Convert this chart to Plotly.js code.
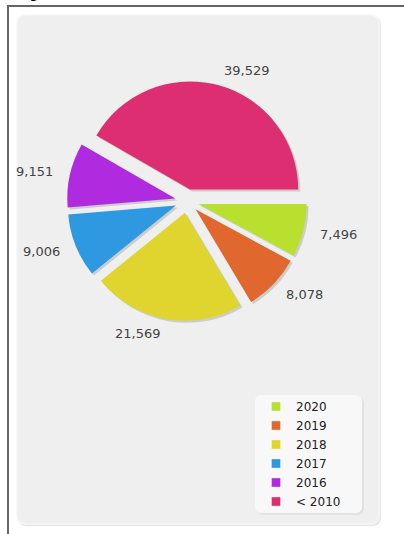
<!DOCTYPE html>
<html>
<head>
<meta charset="utf-8">
<script src="https://cdn.plot.ly/plotly-3.0.1.min.js"></script>
<style>
html,body{margin:0;padding:0;background:#fff;}
#chart{width:404px;height:534px;}
.legend .legendpoints path{transform:translate(20px,0px) scale(0.72);}
</style>
</head>
<body>
<div id="chart"></div>
<script>
// ---- data ----
var categories = ["2020", "2019", "2018", "2017", "2016", "< 2010"];
var values = [7496, 8078, 21569, 9006, 9151, 39529];
var valueLabels = ["7,496", "8,078", "21,569", "9,006", "9,151", "39,529"];
var colors = ["#b9e02e", "#e0672e", "#e0d52e", "#2e98e0", "#b02be0", "#de2e72"];

// ---- layout helpers (pixel -> paper) ----
var W = 404, H = 534;
function px(x) { return x / W; }
function py(y) { return 1 - y / H; }
var cx = 187, cy = 201, half = 120, pullFrac = 0.11;

function roundRect(x0, y0, x1, y1, r) {
  return "M" + px(x0 + r) + "," + py(y0) +
    " L" + px(x1 - r) + "," + py(y0) +
    " Q" + px(x1) + "," + py(y0) + " " + px(x1) + "," + py(y0 + r) +
    " L" + px(x1) + "," + py(y1 - r) +
    " Q" + px(x1) + "," + py(y1) + " " + px(x1 - r) + "," + py(y1) +
    " L" + px(x0 + r) + "," + py(y1) +
    " Q" + px(x0) + "," + py(y1) + " " + px(x0) + "," + py(y1 - r) +
    " L" + px(x0) + "," + py(y0 + r) +
    " Q" + px(x0) + "," + py(y0) + " " + px(x0 + r) + "," + py(y0) + " Z";
}

var pulls = values.map(function () { return pullFrac; });

var shadow = {
  type: "pie", values: values, labels: categories, sort: false,
  direction: "clockwise", rotation: 90, pull: pulls,
  marker: { colors: values.map(function () { return "#c4c4c4"; }), line: { width: 0 } },
  textinfo: "none", hoverinfo: "skip", showlegend: false, opacity: 0.8,
  domain: { x: [px(cx - half + 2), px(cx + half + 2)], y: [py(cy + half + 2), py(cy - half + 2)] }
};
var pie = {
  type: "pie", values: values, labels: categories, sort: false,
  direction: "clockwise", rotation: 90, pull: pulls,
  marker: { colors: colors, line: { width: 0 } },
  textinfo: "none", hoverinfo: "label+value",
  domain: { x: [px(cx - half), px(cx + half)], y: [py(cy + half), py(cy - half)] }
};

// value labels placed from the data's angles
var total = values.reduce(function (a, b) { return a + b; }, 0);
var annotations = [];
var cum = 0, R = 135;
values.forEach(function (v, i) {
  var mid = (cum + v / 2) / total * 2 * Math.PI; // clockwise from 3 o'clock
  cum += v;
  var dx = Math.cos(mid), dy = Math.sin(mid);
  var x = cx + R * dx, y = cy + R * dy;
  annotations.push({
    xref: "paper", yref: "paper", x: px(x), y: py(y), showarrow: false,
    text: valueLabels[i], xanchor: dx > 0.1 ? "left" : (dx < -0.1 ? "right" : "center"),
    yanchor: "middle", font: { family: "DejaVu Sans", size: 13, color: "#444" }
  });
});
annotations.push({
  xref: "paper", yref: "paper", x: px(36), y: py(-11), showarrow: false,
  text: "<b>y</b>", xanchor: "center", yanchor: "middle",
  font: { family: "DejaVu Sans", size: 22, color: "#000" }
});

var shapes = [
  { type: "path", xref: "paper", yref: "paper", path: roundRect(18, 16, 381, 526, 9),
    fillcolor: "#e6e6e6", line: { width: 0 }, layer: "below" },
  { type: "path", xref: "paper", yref: "paper", path: roundRect(17, 15, 379, 524, 9),
    fillcolor: "#efefef", line: { color: "#f6f6f6", width: 1.5 }, layer: "below" },
  { type: "path", xref: "paper", yref: "paper", path: roundRect(257, 397, 364, 515, 7),
    fillcolor: "#e2e2e2", line: { width: 0 }, layer: "below" },
  { type: "path", xref: "paper", yref: "paper", path: roundRect(255, 395, 362, 513, 7),
    fillcolor: "#f8f8f8", line: { width: 0 }, layer: "below" },
  { type: "line", xref: "paper", yref: "paper", x0: px(8), x1: px(8), y0: py(5), y1: py(540),
    line: { color: "#666", width: 2 } },
  { type: "line", xref: "paper", yref: "paper", x0: px(7), x1: px(410), y0: py(6), y1: py(6),
    line: { color: "#666", width: 2 } }
];

var layout = {
  width: W, height: H,
  margin: { l: 0, r: 0, t: 0, b: 0 },
  paper_bgcolor: "#fff",
  showlegend: true,
  legend: {
    x: px(256), y: py(392), xanchor: "left", yanchor: "top",
    bgcolor: "rgba(0,0,0,0)", traceorder: "normal",
    font: { family: "DejaVu Sans", size: 12, color: "#222" }
  },
  shapes: shapes,
  annotations: annotations
};

Plotly.newPlot("chart", [shadow, pie], layout, { displayModeBar: false, staticPlot: true });
</script>
</body>
</html>
